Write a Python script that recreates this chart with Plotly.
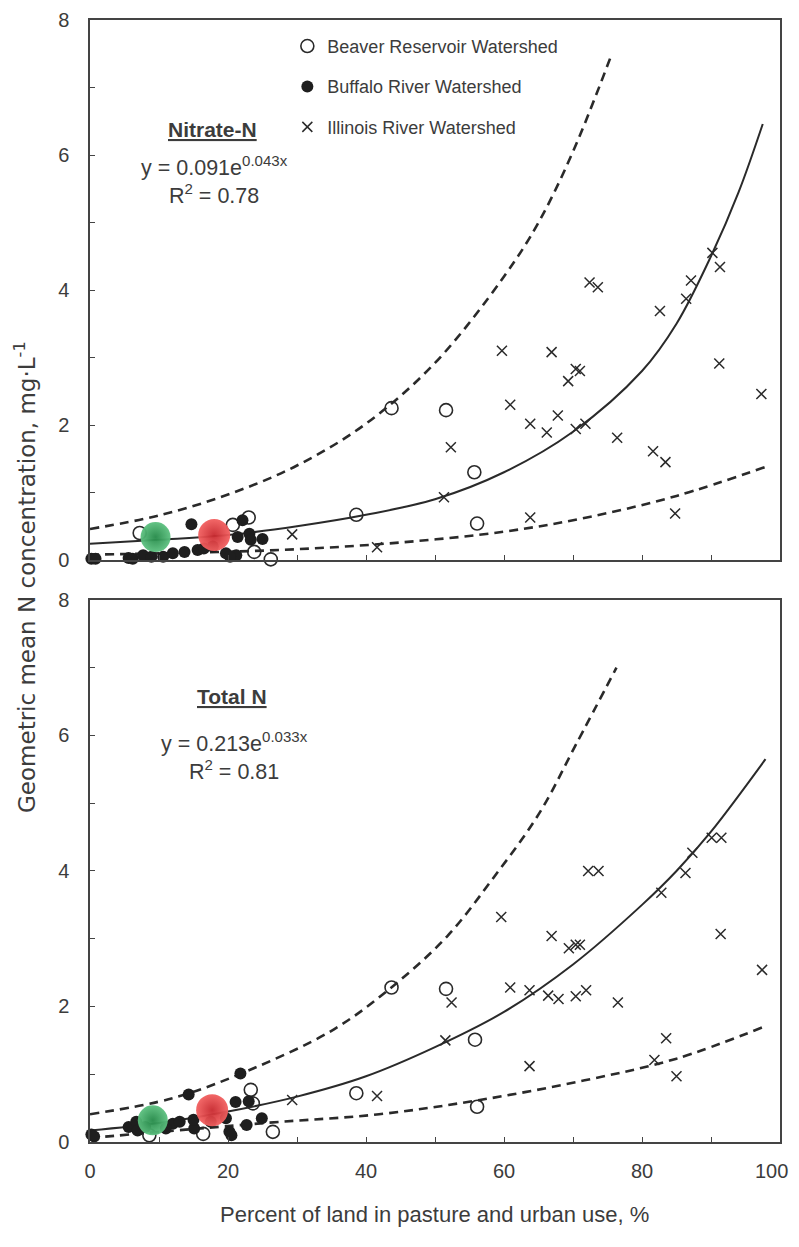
import plotly.graph_objects as go

# ---------------- data: Nitrate-N panel ----------------
no3_beaver_x = [43.7, 51.6, 55.7, 56.1, 38.6, 23.0, 26.2, 20.7, 23.8, 7.2]
no3_beaver_y = [2.25, 2.22, 1.30, 0.54, 0.67, 0.63, 0.01, 0.52, 0.12, 0.40]

no3_buffalo_x = [0.2, 0.8, 5.6, 6.2, 7.7, 8.9, 10.6, 12.0, 13.7, 14.7, 15.6, 17.8,
                 19.7, 21.2, 21.4, 22.1, 23.1, 23.3, 25.0, 20.3, 16.5]
no3_buffalo_y = [0.02, 0.02, 0.03, 0.02, 0.07, 0.05, 0.05, 0.10, 0.12, 0.53, 0.15, 0.20,
                 0.10, 0.07, 0.34, 0.59, 0.39, 0.30, 0.31, 0.05, 0.17]

no3_illinois_x = [29.3, 41.6, 51.3, 52.3, 59.7, 60.9, 63.8, 63.8, 66.2, 66.9, 67.8, 69.3,
                  70.4, 71.0, 70.4, 71.8, 72.4, 73.6, 76.4, 81.6, 82.6, 83.4, 84.8, 86.4,
                  87.1, 90.2, 91.3, 91.2, 97.3]
no3_illinois_y = [0.38, 0.19, 0.93, 1.67, 3.10, 2.30, 2.02, 0.63, 1.89, 3.08, 2.14, 2.65,
                  2.83, 2.80, 1.94, 2.02, 4.11, 4.04, 1.81, 1.61, 3.69, 1.45, 0.69, 3.87,
                  4.14, 4.55, 4.34, 2.91, 2.46]

no3_green_x, no3_green_y = [9.5], [0.34]
no3_red_x, no3_red_y = [18.0], [0.37]

# fitted curve and bounds
no3_fit_x = [0, 10, 20, 30, 40, 50, 60, 70, 80, 85, 90, 94, 97.5]
no3_fit_y = [0.24, 0.30, 0.37, 0.50, 0.67, 0.90, 1.30, 1.90, 2.80, 3.50, 4.50, 5.45, 6.46]
no3_up_x = [0, 10, 20, 30, 40, 50, 60, 65, 70, 75.6]
no3_up_y = [0.46, 0.66, 0.97, 1.40, 2.02, 2.92, 4.20, 5.00, 6.05, 7.49]
no3_lo_x = [0, 15, 30, 45, 60, 72, 85, 98.2]
no3_lo_y = [0.08, 0.11, 0.16, 0.26, 0.42, 0.63, 0.95, 1.39]

# ---------------- data: Total N panel ----------------
tn_beaver_x = [43.7, 51.6, 55.8, 56.1, 38.6, 23.3, 23.6, 26.5, 16.4, 8.6]
tn_beaver_y = [2.28, 2.26, 1.51, 0.52, 0.72, 0.77, 0.57, 0.15, 0.12, 0.10]

tn_buffalo_x = [0.2, 0.6, 5.6, 6.7, 6.9, 12.0, 13.0, 14.3, 15.1, 15.0, 20.2, 21.1,
                21.8, 22.7, 24.9, 19.7, 8.0, 11.0, 17.5, 20.5, 23.0]
tn_buffalo_y = [0.11, 0.08, 0.22, 0.30, 0.17, 0.27, 0.30, 0.70, 0.20, 0.33, 0.15, 0.59,
                1.01, 0.25, 0.35, 0.35, 0.22, 0.20, 0.30, 0.10, 0.60]

tn_illinois_x = [29.3, 41.6, 51.5, 52.4, 59.6, 60.9, 63.7, 63.7, 66.4, 66.9, 67.9, 69.4,
                 70.4, 71.0, 70.4, 71.9, 72.2, 73.7, 76.5, 81.8, 82.8, 83.5, 85.0, 86.3,
                 87.3, 90.1, 91.5, 91.4, 97.4]
tn_illinois_y = [0.62, 0.68, 1.50, 2.06, 3.32, 2.28, 2.24, 1.12, 2.16, 3.04, 2.11, 2.86,
                 2.91, 2.91, 2.15, 2.24, 4.00, 4.00, 2.06, 1.21, 3.68, 1.53, 0.97, 3.97,
                 4.27, 4.49, 4.49, 3.07, 2.54]

tn_green_x, tn_green_y = [9.1], [0.32]
tn_red_x, tn_red_y = [17.7], [0.47]

tn_fit_x = [0, 10, 20, 30, 40, 50, 60, 70, 80, 85, 90, 97.9]
tn_fit_y = [0.17, 0.28, 0.45, 0.67, 0.97, 1.40, 1.92, 2.62, 3.50, 4.00, 4.58, 5.65]
tn_up_x = [0, 12.1, 23.3, 35.3, 43.9, 51.8, 58.4, 65.1, 70.4, 76.3]
tn_up_y = [0.41, 0.65, 1.07, 1.66, 2.30, 3.04, 3.89, 4.85, 5.86, 7.0]
tn_lo_x = [0, 25.3, 41.9, 56.5, 71.7, 85.0, 97.9]
tn_lo_y = [0.06, 0.28, 0.41, 0.62, 0.91, 1.23, 1.71]

legend_names = ["Beaver Reservoir Watershed", "Buffalo River Watershed", "Illinois River Watershed"]
x_ticks = [0, 20, 40, 60, 80, 100]
# the last label is padded with no-break spaces so it stays inside the page edge
x_ticktext = ["0", "20", "40", "60", "80", "100\u00a0\u00a0\u00a0"]
y_ticks = [0, 2, 4, 6, 8]

# ---------------- styling ----------------
INK = "#2a2a2a"
TXT = "#3c3c3c"
FONT = "Liberation Sans, Arial, sans-serif"

fig = go.Figure()


def add_panel(xa, ya, fit, up, lo, bea, buf, ill, green, red, show_legend):
    common = dict(xaxis=xa, yaxis=ya, cliponaxis=False)
    dash_line = dict(color=INK, width=2.6, dash="9px,6px", shape="spline")
    fig.add_trace(go.Scatter(x=up[0], y=up[1], mode="lines", line=dash_line, showlegend=False, hoverinfo="skip", **common))
    fig.add_trace(go.Scatter(x=lo[0], y=lo[1], mode="lines", line=dash_line, showlegend=False, hoverinfo="skip", **common))
    fig.add_trace(go.Scatter(x=fit[0], y=fit[1], mode="lines", line=dict(color=INK, width=2.0, shape="spline"),
                             showlegend=False, hoverinfo="skip", **common))
    fig.add_trace(go.Scatter(x=bea[0], y=bea[1], mode="markers", name=legend_names[0], legendgroup="a",
                             marker=dict(symbol="circle-open", size=13, color=INK, line=dict(width=1.6)),
                             showlegend=show_legend, **common))
    fig.add_trace(go.Scatter(x=buf[0], y=buf[1], mode="markers", name=legend_names[1], legendgroup="b",
                             marker=dict(symbol="circle", size=12, color="#1e1e1e"),
                             showlegend=show_legend, **common))
    fig.add_trace(go.Scatter(x=ill[0], y=ill[1], mode="markers", name=legend_names[2], legendgroup="c",
                             marker=dict(symbol="x-thin-open", size=10, color=INK, line=dict(width=1.5, color=INK)),
                             showlegend=show_legend, **common))
    fig.add_trace(go.Scatter(x=green[0], y=green[1], mode="markers", showlegend=False, hoverinfo="skip",
                             marker=dict(size=30, color="#5cc07f", opacity=0.95,
                                         gradient=dict(type="radial", color="#248a48"), line=dict(width=0)), **common))
    fig.add_trace(go.Scatter(x=red[0], y=red[1], mode="markers", showlegend=False, hoverinfo="skip",
                             marker=dict(size=32, color="#f26060", opacity=0.95,
                                         gradient=dict(type="radial", color="#c8282e"), line=dict(width=0)), **common))


add_panel("x", "y", (no3_fit_x, no3_fit_y), (no3_up_x, no3_up_y), (no3_lo_x, no3_lo_y),
          (no3_beaver_x, no3_beaver_y), (no3_buffalo_x, no3_buffalo_y), (no3_illinois_x, no3_illinois_y),
          (no3_green_x, no3_green_y), (no3_red_x, no3_red_y), True)
add_panel("x2", "y2", (tn_fit_x, tn_fit_y), (tn_up_x, tn_up_y), (tn_lo_x, tn_lo_y),
          (tn_beaver_x, tn_beaver_y), (tn_buffalo_x, tn_buffalo_y), (tn_illinois_x, tn_illinois_y),
          (tn_green_x, tn_green_y), (tn_red_x, tn_red_y), False)

axis_common = dict(showline=True, linecolor="#444", linewidth=1.5, mirror=True, showgrid=False,
                   zeroline=False, ticks="inside", ticklen=5, tickcolor="#444", tickwidth=1.2,
                   automargin=False, ticklabeloverflow="allow",
                   tickfont=dict(family=FONT, size=20, color=TXT))
xax = dict(axis_common, range=[0, 100], tickvals=x_ticks, ticktext=x_ticktext,
           minor=dict(dtick=10, ticks="inside", ticklen=5, tickcolor="#444"))
yax = dict(axis_common, range=[0, 8], tickvals=y_ticks, ticklabelstandoff=15,
           minor=dict(dtick=1, ticks="inside", ticklen=5, tickcolor="#444"))

# the page body has an 8px margin; the figure is sized so it fits the 799x1247 window exactly
fig.update_layout(
    width=783, height=1231,
    margin=dict(l=82, r=11, t=12, b=97, autoexpand=False),
    paper_bgcolor="white", plot_bgcolor="white",
    xaxis=dict(xax, domain=[0, 1], anchor="y", showticklabels=False),
    yaxis=dict(yax, domain=[0.5187, 1], anchor="x"),
    xaxis2=dict(xax, domain=[0, 1], anchor="y2", ticklabelstandoff=10),
    yaxis2=dict(yax, domain=[0, 0.4831], anchor="x2"),
    legend=dict(x=0.286, y=0.993, xanchor="left", yanchor="top", bgcolor="rgba(0,0,0,0)",
                font=dict(family=FONT, size=18, color=TXT), tracegroupgap=14,
                itemwidth=30),
    font=dict(family=FONT, color=TXT),
)

ann = dict(xref="paper", yref="paper", showarrow=False, xanchor="center", yanchor="middle",
           font=dict(family=FONT, size=21.5, color=TXT))
head = dict(family=FONT, size=21, color=TXT)
fig.add_annotation(ann, x=0.178, y=0.902, text="<b><u>Nitrate-N</u></b>", font=head)
fig.add_annotation(ann, x=0.181, y=0.857, align="center",
                   text="y = 0.091e<sup>0.043x</sup><br>R<sup>2</sup> = 0.78")
fig.add_annotation(ann, x=0.206, y=0.397, text="<b><u>Total N</u></b>", font=head)
fig.add_annotation(ann, x=0.210, y=0.344, align="center",
                   text="y = 0.213e<sup>0.033x</sup><br>R<sup>2</sup> = 0.81")
fig.add_annotation(ann, x=0.499, y=-0.065, text="Percent of land in pasture and urban use, %",
                   font=dict(family=FONT, size=22, color=TXT))
fig.add_annotation(ann, x=-0.095, y=0.504, textangle=-90,
                   text="Geometric mean N concentration, mg·L<sup>-1</sup>",
                   font=dict(family="DejaVu Sans, sans-serif", size=23, color=TXT))

fig.write_html("out.html")
